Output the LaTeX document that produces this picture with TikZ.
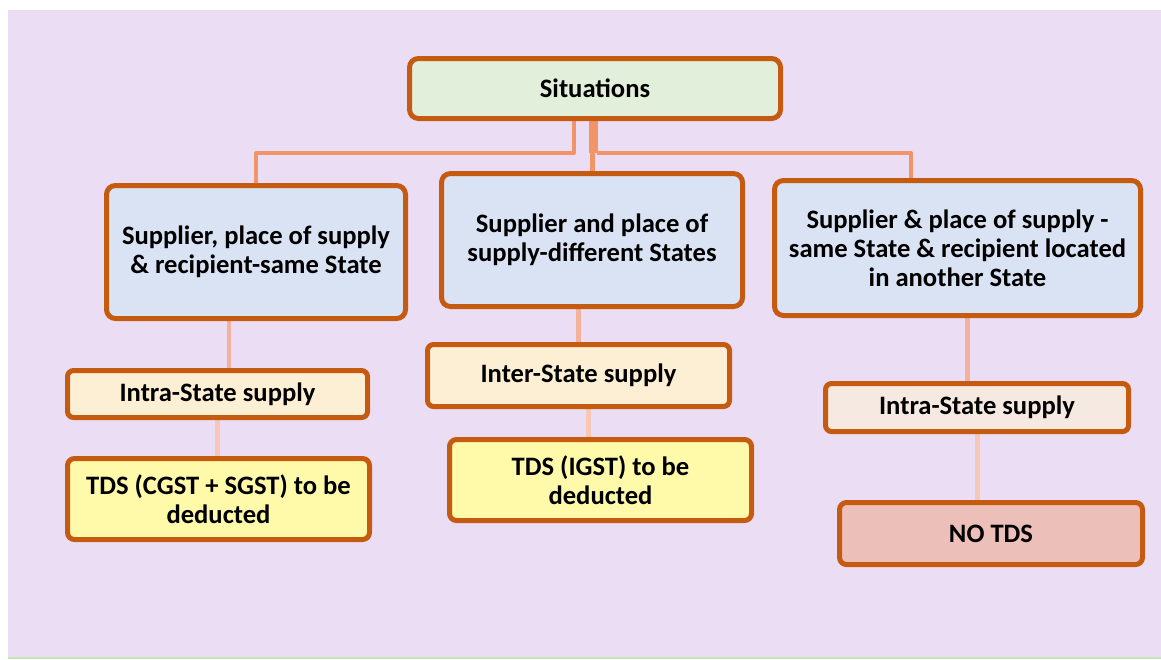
\documentclass[tikz,border=0pt]{standalone}
\usepackage{fontspec}
\setmainfont{Carlito}
\usetikzlibrary{backgrounds}
\definecolor{bgc}{HTML}{EBDEF4}
\definecolor{edgec}{HTML}{C55A11}
\definecolor{greenf}{HTML}{E2EFDA}
\definecolor{bluef}{HTML}{DAE3F3}
\definecolor{creamf}{HTML}{FDEFD4}
\definecolor{peachf}{HTML}{F6E9E1}
\definecolor{yellowf}{HTML}{FFFAA9}
\definecolor{pinkf}{HTML}{ECC0B8}
\definecolor{connA}{HTML}{F19569}
\definecolor{connB}{HTML}{F4B29C}
\definecolor{connC}{HTML}{F7C8B7}
\definecolor{lineg}{HTML}{C6E7B4}
\pgfdeclarelayer{back}
\pgfsetlayers{back,background,main}
\tikzset{
  box/.style={draw=edgec, line width=5pt, rounded corners=9pt, align=center,
    inner sep=0pt, font=\fontsize{26.6}{28.8}\selectfont\bfseries},
  conn/.style={line width=4pt, draw=connA},
}
\begin{document}
\begin{tikzpicture}[x=1pt,y=-1pt]
\useasboundingbox (0,0) rectangle (1161,659);
\begin{pgfonlayer}{back}
\fill[bgc] (8,10) rectangle (1161,657);
\fill[lineg] (8,657) rectangle (1161,659);
\end{pgfonlayer}
% nodes
\node[box, fill=greenf, minimum width=371pt, minimum height=60pt] (sit) at (595,88.5) {Situations};
\node[box, fill=bluef, minimum width=299pt, minimum height=133pt] (b1) at (256,252)
  {Supplier, place of supply\\ \& recipient-same State};
\node[box, fill=bluef, minimum width=301pt, minimum height=133pt] (b2) at (592,240)
  {Supplier and place of\\ supply-different States};
\node[box, fill=bluef, minimum width=366pt, minimum height=135pt] (b3) at (957.5,248)
  {Supplier \& place of supply -\\ same State \& recipient located\\ in another State};
\node[box, fill=creamf, rounded corners=6pt, minimum width=300pt, minimum height=47pt] (i1) at (217.5,394) {Intra-State supply};
\node[box, fill=creamf, rounded corners=6pt, minimum width=302pt, minimum height=62pt] (inter) at (578.5,375.5) {Inter-State supply};
\node[box, fill=peachf, rounded corners=6pt, minimum width=303pt, minimum height=48pt] (i3) at (977,407.5) {Intra-State supply};
\node[box, fill=yellowf, rounded corners=7pt, minimum width=302pt, minimum height=81pt] (t1) at (218.5,499)
  {TDS (CGST + SGST) to be\\ deducted};
\node[box, fill=yellowf, rounded corners=7pt, minimum width=302pt, minimum height=81pt] (t2) at (600.5,480)
  {TDS (IGST) to be\\ deducted};
\node[box, fill=pinkf, rounded corners=7pt, minimum width=303pt, minimum height=62pt] (nt) at (991,533.5) {NO TDS};
% junction points
\coordinate (jl) at (573.5,153);
\coordinate (jr) at (911,153);
% connectors
\begin{pgfonlayer}{background}
\draw[conn, line join=round] ([xshift=-21.5pt]sit.south) -- (jl) -| (b1.north);
\draw[conn, line width=9pt] ([xshift=-1.5pt]sit.south) -- ([xshift=-1.5pt]sit.south |- jl);
\draw[conn, line width=5pt] (b2.north) -- (b2.north |- jl);
\draw[conn, line join=round] ([xshift=2pt]sit.south |- jl) -- (jr) -- (jr |- b3.north);
\draw[conn, draw=connB] ([xshift=-27pt]b1.south) -- ([xshift=-27pt]b1.south |- i1.north);
\draw[conn, draw=connC, line width=5pt] (i1.south) -- (t1.north -| i1.south);
\draw[conn, draw=connB, line width=5pt] (b2.south -| inter.north) -- (inter.north);
\draw[conn, draw=connC, line width=5pt] ([xshift=10pt]inter.south) -- ([xshift=10pt]inter.south |- t2.north);
\draw[conn, draw=connB, line width=5pt] ([xshift=-10pt]i3.north |- b3.south) -- ([xshift=-10pt]i3.north);
\draw[conn, draw=connC, line width=5pt] (i3.south) -- ([yshift=-4pt]i3.south |- nt.north);
\end{pgfonlayer}
\end{tikzpicture}
\end{document}
